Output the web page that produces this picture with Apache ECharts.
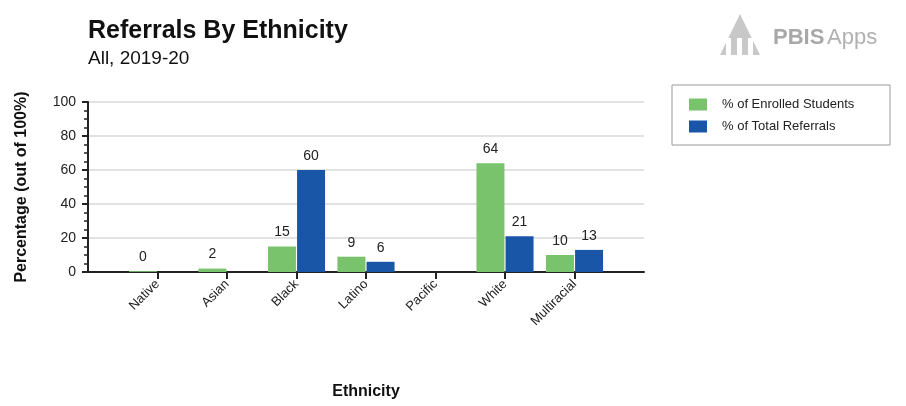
<!DOCTYPE html>
<html><head><meta charset="utf-8">
<script src="https://cdn.jsdelivr.net/npm/echarts@6/dist/echarts.min.js"></script>
<style>body{margin:0;background:#fff}#c{width:906px;height:406px}</style>
</head><body><div id="c"></div>
<script>
const categories = ['', 'Native', 'Asian', 'Black', 'Latino', 'Pacific', 'White', 'Multiracial', ''];
const enrolled = [null, 0.5, 2, 15, 9, null, 64, 10, null];
const referrals = [null, null, null, 60, 6, null, 21, 13, null];
const yTicks = [0, 20, 40, 60, 80, 100];

const chart = echarts.init(document.getElementById('c'));
const lbl = {show: true, position: 'top', color: '#222', fontSize: 14, distance: 7,
  formatter: p => Math.floor(p.value)};
chart.setOption({
  animation: false,
  textStyle: {fontFamily: 'Liberation Sans, Arial'},
  title: [
    {text: 'Referrals By Ethnicity', left: 83, top: 14, textStyle: {fontSize: 25, fontWeight: 'bold', color: '#111'}},
    {text: 'All, 2019-20', left: 83, top: 44, textStyle: {fontSize: 19, fontWeight: 'normal', color: '#111'}},
    {text: 'PBIS', left: 768, top: 22, textStyle: {fontSize: 22, fontWeight: 'bold', color: '#a8a8a8'}},
    {text: 'Apps', left: 822, top: 22, textStyle: {fontSize: 22, fontWeight: 'normal', color: '#b0b0b0'}}
  ],
  graphic: [
    {type: 'polygon', shape: {points: [[720, 55], [740, 14], [760, 55]]}, style: {fill: '#c8c8c8'}},
    {type: 'rect', shape: {x: 726, y: 38, width: 5, height: 17}, style: {fill: '#fff'}},
    {type: 'rect', shape: {x: 737, y: 38, width: 5, height: 17}, style: {fill: '#fff'}},
    {type: 'rect', shape: {x: 748, y: 38, width: 5, height: 17}, style: {fill: '#fff'}},
    {type: 'rect', shape: {x: 672, y: 85, width: 218, height: 60}, style: {fill: 'none', stroke: '#999', lineWidth: 1}}
  ],
  legend: {
    orient: 'vertical', left: 684, top: 93, itemWidth: 18, itemHeight: 12, itemGap: 9, icon: 'rect',
    textStyle: {fontSize: 13, color: '#222', padding: [0, 0, 0, 10]},
    data: ['% of Enrolled Students', '% of Total Referrals']
  },
  grid: {left: 88, right: 262, top: 102, bottom: 134},
  xAxis: {
    type: 'category', data: categories, boundaryGap: false,
    name: 'Ethnicity', nameLocation: 'middle', nameGap: 112,
    nameTextStyle: {fontSize: 16, fontWeight: 'bold', color: '#111'},
    axisLine: {lineStyle: {color: '#222', width: 2}},
    axisTick: {show: true, length: 7, lineStyle: {color: '#222', width: 2},
      interval: (i) => i > 0 && i < categories.length - 1},
    axisLabel: {rotate: 45, color: '#222', fontSize: 13, margin: 10, interval: 0},
    splitLine: {show: false}
  },
  yAxis: {
    type: 'value', min: 0, max: 100, interval: 20,
    name: 'Percentage (out of 100%)', nameLocation: 'middle', nameGap: 58,
    nameTextStyle: {fontSize: 16, fontWeight: 'bold', color: '#111'},
    axisLine: {show: true, lineStyle: {color: '#222', width: 2}},
    axisTick: {show: true, length: 6, lineStyle: {color: '#222', width: 2}},
    minorTick: {show: true, splitNumber: 4, length: 4, lineStyle: {color: '#222', width: 1.5}},
    axisLabel: {color: '#222', fontSize: 14, margin: 12, formatter: v => yTicks.includes(v) ? v : ''},
    splitLine: {lineStyle: {color: '#d9d9d9', width: 1.5}}
  },
  series: [
    {name: '% of Enrolled Students', type: 'bar', data: enrolled, barWidth: 28, barGap: '4%',
      itemStyle: {color: '#78c36c'}, label: lbl},
    {name: '% of Total Referrals', type: 'bar', data: referrals, barWidth: 28,
      itemStyle: {color: '#1a56a8'}, label: lbl}
  ]
});
</script></body></html>
